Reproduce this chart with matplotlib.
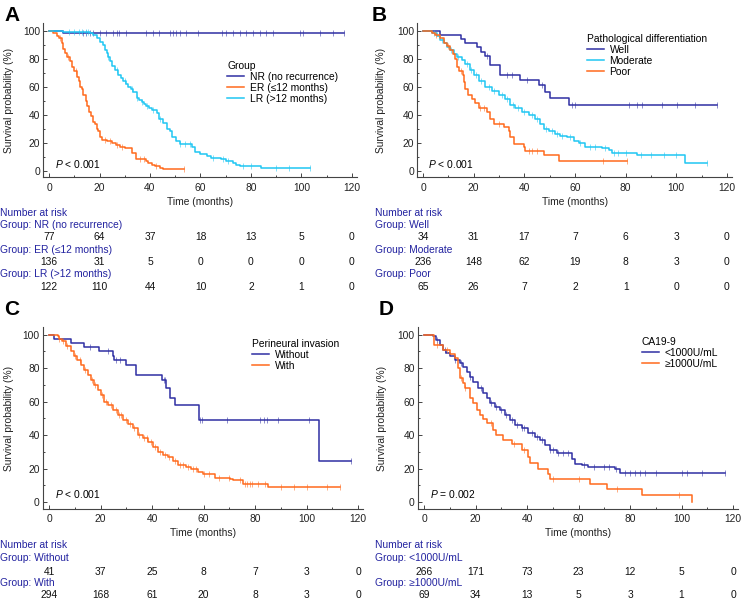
import numpy as np
import matplotlib
matplotlib.use('Agg')
import matplotlib.pyplot as plt
from matplotlib.transforms import blended_transform_factory

plt.rcParams['font.family'] = ['Liberation Sans', 'DejaVu Sans']
plt.rcParams['mathtext.fontset'] = 'custom'
plt.rcParams['mathtext.it'] = 'Liberation Sans:italic'
plt.rcParams['mathtext.rm'] = 'Liberation Sans'

W, H = 753, 600
BLUE = '#2F2FA3'
ORANGE = '#FF6A1C'
CYAN = '#1FC6F3'
TXT_BLUE = '#2323A0'
FS = 7.4

risk_times = [0, 20, 40, 60, 80, 100, 120]

# ---- panel A: recurrence group ----
nr_t = [0, 5.5]
nr_s = [100, 98.7]
nr_end = 116.8
nr_cens = [13.3, 14.6, 16.2, 17.5, 20.2, 22.6, 25.2, 26.8, 27.8, 30.5, 38.4, 41.0, 43.6,
           47.9, 49.2, 50.5, 51.8, 54.2, 59.1, 68.7, 70.3, 72.9, 75.6, 78.2, 80.8, 83.5,
           86.1, 88.8, 99.3, 100.6, 107.2, 112.5, 116.8]

er_t = [0, 1.7, 3.0, 4.0, 5.0, 5.7, 6.5, 7.0, 8.3, 9.1, 9.9, 10.9, 12.0, 12.3, 12.9, 13.6,
        14.6, 15.2, 16.0, 16.5, 17.3, 18.2, 18.9, 19.5, 20.2, 20.8, 22.8, 24.8, 26.5, 28.1,
        30.1, 32.7, 34.4, 38.6, 39.3, 40.6, 41.9, 43.9, 45.2]
er_s = [100, 98.1, 96.5, 94.5, 91, 87, 84, 81, 78, 74, 71, 67, 64, 60, 58, 54,
        50, 46, 42, 39, 35, 33, 30, 28, 24, 22, 21, 19.5, 18.3, 17,
        16.4, 12.4, 8, 7, 5.7, 4, 3, 1.7, 1]
er_end = 53.5
er_cens = [4.3, 7.5, 10.5, 22, 24, 27, 29, 36, 37.5, 42.5, 53.5]

lr_t = [0, 5.5, 16.2, 17.5, 18.9, 20.2, 21.2, 22.2, 22.8, 23.5, 24.1, 25, 26.1, 27.4, 28.4,
        29.4, 30.4, 31.4, 32.4, 33.4, 34.7, 35.7, 36.7, 37.7, 38.6, 39.6, 40.6, 42.6, 43.6,
        45.2, 46.6, 47.9, 48.9, 50.5, 51.8, 56.8, 57.8, 59.7, 62.4, 64.0, 68.3, 70.3, 72.9,
        74.2, 75.6, 84.1]
lr_s = [100, 99.2, 98.5, 97, 94.5, 92, 90, 86, 84, 81, 78, 75, 72, 68, 66,
        64, 62, 60, 58, 56, 52, 50.5, 49, 47.5, 46, 44.5, 43, 41, 37,
        34, 30, 28, 24, 21, 19, 17, 13.6, 12, 10.5, 9, 8, 7, 5.7,
        4, 3.6, 1.7]
lr_end = 103.3
lr_cens = [8, 10, 12, 13, 14.5, 15.5, 23.5, 27, 30, 33, 35, 37, 39, 41, 44, 52, 54, 56,
           65, 69, 71, 77, 80, 90, 95, 103.3]

nr_risk = [77, 64, 37, 18, 13, 5, 0]
er_risk = [136, 31, 5, 0, 0, 0, 0]
lr_risk = [122, 110, 44, 10, 2, 1, 0]

# ---- panel B: pathological differentiation ----
well_t = [0, 6.8, 15.1, 16.7, 21.3, 23.0, 24.6, 26.6, 30.5, 38.4, 45.7, 48.3, 50.3, 57.5]
well_s = [100, 97, 94, 91, 88, 85, 82, 75.5, 68, 64.7, 61, 56, 52, 47]
well_end = 116
well_cens = [25.3, 33.2, 35.1, 41, 47, 58.8, 59.9, 81.2, 84.5, 86.4, 94.3, 100.3, 107.5, 116]

mod_t = [0, 3.6, 5.5, 6.8, 8.2, 9.5, 10.8, 12.1, 13.4, 15.4, 16.7, 18.7, 20, 22, 24.6, 27.2,
         29.9, 32.5, 34.5, 36.4, 39, 41.7, 44.3, 46.3, 47.6, 49.6, 52.2, 54.2, 56.8, 59.5,
         61.4, 63.8, 70.7, 73.3, 74.6, 84.5, 103.6]
mod_s = [100, 98, 96, 93, 91, 88, 86, 83, 81, 79, 76, 72, 68, 64, 60, 57,
         54, 51, 47, 45, 42, 40, 37, 33, 30, 28, 26, 25, 24, 21,
         20, 17, 16, 14.5, 12.6, 11, 5.7]
mod_end = 112
mod_cens = [4.5, 7.5, 11, 14, 17.5, 19, 21, 23, 26, 28, 31, 33, 35.5, 37.5, 40, 43, 45,
            48.5, 51, 53, 55, 58, 62, 66, 68, 72, 75.5, 77, 80, 86, 90, 95, 100, 112]

poor_t = [0, 3.6, 4.9, 6.8, 8.2, 9.5, 10.8, 11.7, 12.5, 13.4, 14.3, 15.7, 16.1, 16.7, 17.8,
          19.3, 20.4, 22, 25.3, 26.6, 27.9, 31.8, 33.8, 34.5, 35.8, 39.7, 40.4, 47.6, 53.6]
poor_s = [100, 98, 97, 95, 91, 89, 86, 83, 80, 74, 71, 68, 63, 58, 54,
          51, 48, 45, 42, 37, 33, 31, 28, 24, 19, 17, 14, 11, 7]
poor_end = 80.5
poor_cens = [5, 10, 15, 22.5, 24, 30, 42, 43, 45, 71, 80.5]

well_risk = [34, 31, 17, 7, 6, 3, 0]
mod_risk = [236, 148, 62, 19, 8, 3, 0]
poor_risk = [65, 26, 7, 2, 1, 0, 0]

# ---- panel C: perineural invasion ----
wo_t = [0, 2, 8.5, 13.7, 19.5, 24.7, 25.4, 29.9, 33.8, 43.8, 45.5, 46.8, 48.8, 58.3, 104.7]
wo_s = [100, 97.5, 95, 92.7, 90, 87.5, 85, 82, 76, 73, 68, 62, 58, 49, 24.5]
wo_end = 117.4
wo_cens = [16, 23, 26, 27.5, 44.5, 45, 58.8, 59.5, 69, 82, 83.5, 84.5, 89, 101, 117.4]

wi_t = [0, 3.3, 3.9, 5.2, 6.5, 8.5, 9.8, 11, 12.4, 13.7, 15, 16.3, 17.6, 18.9, 20.2, 21.5,
        22.8, 24.7, 26.7, 28.6, 30.6, 32.5, 34.5, 36.4, 38.4, 40.3, 42.3, 44.2, 46.2, 48.1,
        50.1, 53.3, 55.3, 57.9, 59.8, 64.4, 70.2, 71.5, 75.4, 85.2]
wi_s = [100, 99, 97.5, 96, 93, 90, 87.5, 85, 82, 79, 76, 73, 70, 67, 64, 60,
        58, 55, 52, 49, 46.5, 44, 40, 38, 36, 33, 30, 28, 27, 24.5,
        22, 21, 20, 18, 17, 14.5, 14, 13, 11, 9]
wi_end = 113.1
wi_cens = [4, 5.5, 7, 10, 12, 14, 16.5, 18, 20.5, 22, 24, 26, 27, 28, 30, 31.5, 33, 35,
           37, 38, 39.5, 41, 43, 45, 46.5, 49, 51, 52, 54, 56, 57, 60, 62, 66, 70, 74, 76,
           77, 78, 79, 81, 84, 90, 95, 100, 108, 113.1]

wo_risk = [41, 37, 25, 8, 7, 3, 0]
wi_risk = [294, 168, 61, 20, 8, 3, 0]

# ---- panel D: CA19-9 ----
lo_t = [0, 3.5, 4.8, 6.1, 7.4, 8.7, 10, 11.9, 13.9, 15.2, 16.5, 17.8, 19.1, 21, 23, 24.3,
        25.6, 27.5, 29.4, 31.4, 33.3, 35.3, 37.9, 40.5, 43.1, 45, 47, 48.9, 51.5, 57.3, 58.6,
        61.2, 63.8, 74.2, 76.1]
lo_s = [100, 99, 97, 94, 91, 89, 87.5, 85, 83, 81, 78, 75, 72, 68, 65, 62,
        59, 57, 55, 52, 49, 46, 44, 41, 39, 37, 34, 31, 29, 26, 23,
        22, 21, 19.5, 17.5]
lo_end = 117
lo_cens = [5, 8, 12, 14.5, 18, 22, 26, 28, 30, 32, 34, 36, 38, 39, 42, 44, 46, 49, 50,
           52, 54, 56, 62, 66, 70, 72, 74.5, 78, 80, 82, 84, 86, 90, 100, 102, 108, 117]

hi_t = [0, 3.9, 7.4, 10, 11.9, 13, 13.9, 15.2, 15.8, 17.8, 19.1, 20.4, 21.7, 23, 24.3, 26.8,
        28.1, 30.7, 34, 37.9, 40.5, 41.1, 44.4, 48.2, 48.9, 64.5, 70.9, 84.6, 104]
hi_s = [100, 94, 91, 88.5, 86, 80, 74, 71, 68, 62, 59, 55, 52, 49.5, 47, 43,
        40, 37, 34.5, 31, 27, 23.5, 20, 16.5, 13.5, 10.5, 7.5, 4, 0]
hi_end = 104
hi_cens = [5, 9, 14.5, 16, 26, 35, 39, 50, 60, 75, 99]

lo_risk = [266, 171, 73, 23, 12, 5, 0]
hi_risk = [69, 34, 13, 5, 3, 1, 0]


fig = plt.figure(figsize=(W / 100, H / 100), dpi=100)


def fx(x):
    return x / W


def fy(y):
    return 1 - y / H


def panel(box, ylim, letter, letter_xy, ylab_x, curves, title, leg_xy, ptext, p_xy,
          xlab_y, tab_x, head_y, row_ys):
    l, t, r, b = box
    ax = fig.add_axes([fx(l), fy(b), (r - l) / W, (b - t) / H])
    ax.set_xlim(-2.5, 122)
    ax.set_ylim(*ylim)
    handles = []
    for name, col, tt, ss, end, cens, risk in curves:
        tt = np.asarray(tt, float)
        ss = np.asarray(ss, float)
        ln, = ax.step(np.append(tt, end), np.append(ss, ss[-1]), where='post',
                      color=col, lw=1.1, label=name)
        handles.append(ln)
        cens = np.asarray(cens, float)
        cs = ss[np.searchsorted(tt, cens, side='right') - 1]
        ax.plot(cens, cs, ls='none', marker='|', ms=4.5, mew=0.7, color=col, alpha=0.55)
    for s in ['top', 'right']:
        ax.spines[s].set_visible(False)
    for s in ['left', 'bottom']:
        ax.spines[s].set_color('#444444')
        ax.spines[s].set_linewidth(0.8)
    ax.set_xticks(risk_times)
    ax.set_xticks(np.arange(10, 120, 20), minor=True)
    ax.set_yticks([0, 20, 40, 60, 80, 100])
    ax.set_yticks([10, 30, 50, 70, 90], minor=True)
    ax.tick_params(which='both', direction='in', color='#444444', width=0.7,
                   labelsize=FS, labelcolor='#222222')
    ax.tick_params(which='major', length=3)
    ax.tick_params(which='minor', length=1.6)
    ax.tick_params(axis='x', pad=4)
    ax.tick_params(axis='y', pad=2)

    fig.text(fx(letter_xy[0]), fy(letter_xy[1]), letter, fontsize=15, fontweight='bold',
             ha='left', va='top')
    fig.text(fx(ylab_x), fy((t + b) / 2), 'Survival probability (%)', rotation=90,
             fontsize=FS, ha='center', va='center', color='#222222')
    ax.legend(handles=handles, title=title, loc='upper left',
              bbox_to_anchor=(fx(leg_xy[0]), fy(leg_xy[1])), bbox_transform=fig.transFigure,
              frameon=False, fontsize=FS, title_fontsize=FS, alignment='left',
              handlelength=1.7, handletextpad=0.5, labelspacing=0.1, borderpad=0,
              borderaxespad=0)
    fig.text(fx(p_xy[0]), fy(p_xy[1]), ptext, fontsize=FS, ha='left', va='center')

    tr = blended_transform_factory(ax.transData, fig.transFigure)
    fig.text(60, fy(xlab_y), 'Time (months)', transform=tr, fontsize=FS,
             ha='center', va='center', color='#222222')
    fig.text(fx(tab_x), fy(head_y), 'Number at risk', fontsize=FS, color=TXT_BLUE,
             ha='left', va='center')
    for (name, col, tt, ss, end, cens, risk), (gy, ny) in zip(curves, row_ys):
        fig.text(fx(tab_x), fy(gy), 'Group: ' + name, fontsize=FS, color=TXT_BLUE,
                 ha='left', va='center')
        for xt, n in zip(risk_times, risk):
            fig.text(xt, fy(ny), str(n), transform=tr, fontsize=FS, color='#111111',
                     ha='center', va='center')
    return ax


panel((42.7, 23, 357, 177), (-4.5, 105.5), 'A', (4, 6), 9,
      [('NR (no recurrence)', BLUE, nr_t, nr_s, nr_end, nr_cens, nr_risk),
       ('ER (\u226412 months)', ORANGE, er_t, er_s, er_end, er_cens, er_risk),
       ('LR (>12 months)', CYAN, lr_t, lr_s, lr_end, lr_cens, lr_risk)],
      'Group', (227, 61), '$P$ < 0.001', (55, 164),
      202, 0, 213, [(225, 237), (250, 262), (274, 287)])

panel((416.7, 23, 732, 177), (-4.5, 105.5), 'B', (372, 6), 381,
      [('Well', BLUE, well_t, well_s, well_end, well_cens, well_risk),
       ('Moderate', CYAN, mod_t, mod_s, mod_end, mod_cens, mod_risk),
       ('Poor', ORANGE, poor_t, poor_s, poor_end, poor_cens, poor_risk)],
      'Pathological differentiation', (587, 34), '$P$ < 0.001', (428, 164),
      202, 375, 213, [(225, 237), (250, 262), (274, 287)])

panel((42.6, 327.2, 363.2, 508.7), (-4, 104.5), 'C', (4, 300), 9,
      [('Without', BLUE, wo_t, wo_s, wo_end, wo_cens, wo_risk),
       ('With', ORANGE, wi_t, wi_s, wi_end, wi_cens, wi_risk)],
      'Perineural invasion', (252, 339), '$P$ < 0.001', (55, 494),
      533, 0, 545, [(558, 572), (583, 595)])

panel((417.6, 327.2, 738.2, 508.7), (-4, 104.5), 'D', (379, 300), 382,
      [('<1000U/mL', BLUE, lo_t, lo_s, lo_end, lo_cens, lo_risk),
       ('\u22651000U/mL', ORANGE, hi_t, hi_s, hi_end, hi_cens, hi_risk)],
      'CA19-9', (642, 337), '$P$ = 0.002', (430, 494),
      533, 375, 545, [(558, 572), (583, 595)])

fig.savefig('out.png', dpi=100)
